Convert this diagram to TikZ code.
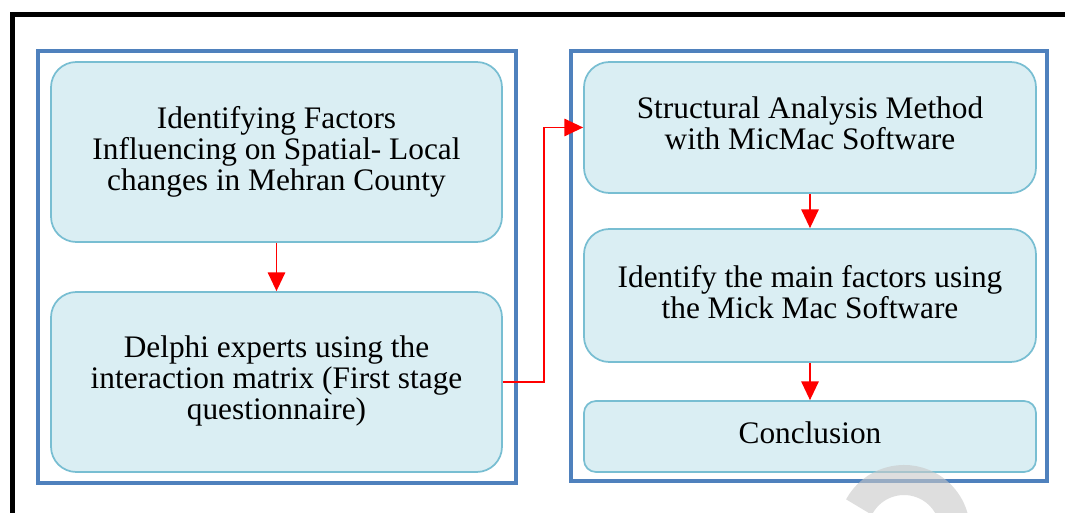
\documentclass[tikz,border=0pt]{standalone}
\usepackage{fontspec}
\setmainfont{Liberation Serif}
\usetikzlibrary{arrows.meta}
\definecolor{panelblue}{HTML}{4F81BD}
\definecolor{boxfill}{HTML}{DAEEF3}
\definecolor{boxline}{RGB}{120,190,210}
\definecolor{wmgray}{RGB}{200,200,200}
\begin{document}
\begin{tikzpicture}[x=0.75pt,y=-0.75pt,
  stagebox/.style={draw=boxline, line width=1.3pt, fill=boxfill, rounded corners=19pt,
    align=center, font=\fontsize{23.5}{23.25}\selectfont, inner sep=0pt,
    minimum width=338.25pt, execute at end node={\rule[-6pt]{0pt}{6pt}}},
  panel/.style={draw=panelblue, line width=2.6pt},
  flow/.style={draw=red, line width=1.2pt, -{Triangle[length=14pt,width=13pt]}},
  outerframe/.style={draw=black, line width=3.75pt},
  watermark/.style={draw=wmgray, opacity=0.6, line width=22.5pt}]
\useasboundingbox (0,0) rectangle (1065,513);
\clip (0,0) rectangle (1065,513);
\fill[white] (0,0) rectangle (1065,513);
% outer frame (cut off at right and bottom)
\draw[outerframe] (12.5,15) rectangle (1100,560);
% panels
\draw[panel] (38,51) rectangle (516,483);
\draw[panel] (571,51) rectangle (1047,481);
% boxes
\node[stagebox, minimum height=135pt] (b1) at (276.5,152)
  {Identifying Factors\\Influencing on Spatial- Local\\changes in Mehran County};
\node[stagebox, minimum height=135pt] (b2) at (276.5,382)
  {Delphi experts using the\\interaction matrix (First stage\\questionnaire)};
\node[stagebox, minimum width=339pt, minimum height=98.25pt] (b3) at (810,127.5)
  {Structural Analysis Method\\with MicMac Software};
\node[stagebox, minimum width=339pt, minimum height=99.75pt] (b4) at (810,295.5)
  {Identify the main factors using\\the Mick Mac Software};
\node[stagebox, minimum width=339pt, minimum height=53.25pt, rounded corners=9pt] (b5) at (810,436.5)
  {Conclusion};
% connectors
\draw[flow] (b1.south) -- (b2.north);
\draw[flow] (b3.south) -- (b4.north);
\draw[flow] (b4.south) -- (b5.north);
\draw[flow] (b2.east) -- ++(41,0) |- (b3.west);
% translucent watermark fragment
\coordinate (wm) at (904,531);
\draw[watermark] (wm) ++(208:51) arc[start angle=208, end angle=400, radius=51];
\end{tikzpicture}
\end{document}
